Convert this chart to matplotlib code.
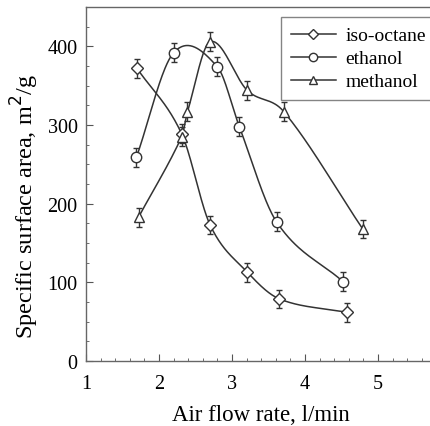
import numpy as np
import matplotlib
matplotlib.use("Agg")
import matplotlib.pyplot as plt
from matplotlib.ticker import MultipleLocator

# data
octane_x = [1.70, 2.31, 2.70, 3.21, 3.65, 4.57]
octane_y = [372, 289, 173, 113, 79, 62]
ethanol_x = [1.69, 2.20, 2.80, 3.10, 3.61, 4.52]
ethanol_y = [259, 392, 374, 298, 177, 101]
methanol_x = [1.72, 2.31, 2.39, 2.70, 3.21, 3.71, 4.79]
methanol_y = [183, 285, 317, 406, 344, 317, 168]
err = 12


def smooth(x, y, n=40):
    """Catmull-Rom style Hermite curve through the points (for the drawn line only)."""
    x = np.asarray(x, float)
    y = np.asarray(y, float)
    m = np.empty_like(y)
    m[1:-1] = (y[2:] - y[:-2]) / (x[2:] - x[:-2])
    m[0] = (y[1] - y[0]) / (x[1] - x[0])
    m[-1] = (y[-1] - y[-2]) / (x[-1] - x[-2])
    xs_all, ys_all = [], []
    for i in range(len(x) - 1):
        h = x[i + 1] - x[i]
        t = np.linspace(0, 1, n)
        h00 = 2 * t**3 - 3 * t**2 + 1
        h10 = t**3 - 2 * t**2 + t
        h01 = -2 * t**3 + 3 * t**2
        h11 = t**3 - t**2
        xs_all.append(x[i] + t * h)
        ys_all.append(h00 * y[i] + h10 * h * m[i] + h01 * y[i + 1] + h11 * h * m[i + 1])
    return np.concatenate(xs_all), np.concatenate(ys_all)


plt.rcParams["font.family"] = ["Liberation Serif", "DejaVu Serif"]

fig = plt.figure(figsize=(4.30, 4.27), dpi=100)
ax = fig.add_axes([0.2, 0.152, 0.815, 0.829])

line_col = "#333333"
series = [
    (octane_x, octane_y, "D", 6.5, "iso-octane"),
    (ethanol_x, ethanol_y, "o", 7.5, "ethanol"),
    (methanol_x, methanol_y, "^", 7.5, "methanol"),
]

for xs, ys, mk, ms, lab in series:
    sx, sy = smooth(xs, ys)
    ax.plot(sx, sy, color=line_col, lw=1.1, zorder=2)
    ax.errorbar(xs, ys, yerr=err, fmt="none", ecolor=line_col, elinewidth=1.0,
                capsize=2.5, capthick=1.0, zorder=3)
    ax.plot(xs, ys, linestyle="none", marker=mk, ms=ms, mfc="white",
            mec=line_col, mew=1.0, zorder=4)
    # legend proxy with a smaller marker
    ax.plot([], [], color=line_col, lw=1.1, marker=mk, ms=ms - 1.5, mfc="white",
            mec=line_col, mew=1.0, label=lab)

ax.set_xlim(1, 5.8)
ax.set_ylim(0, 450)
ax.set_xticks([1, 2, 3, 4, 5])
ax.xaxis.set_minor_locator(MultipleLocator(0.2))
ax.yaxis.set_major_locator(MultipleLocator(100))
ax.yaxis.set_minor_locator(MultipleLocator(25))
ax.tick_params(which="both", direction="in", top=False, right=False,
               labelsize=14.5, color="#555555")
ax.tick_params(axis="x", which="major", length=5, pad=9)
ax.tick_params(axis="y", which="major", length=5, pad=6)
ax.tick_params(which="minor", length=2.5)
for s in ax.spines.values():
    s.set_color("#666666")
    s.set_linewidth(1.0)

ax.set_xlabel("Air flow rate, l/min", fontsize=16.5, labelpad=8)
ax.set_ylabel("Specific surface area, m$^2$/g", fontsize=17.5)
ax.yaxis.set_label_coords(-0.128, 0.44)

leg = ax.legend(loc="upper left", bbox_to_anchor=(0.557, 0.972), fontsize=14,
                frameon=True, fancybox=False, handlelength=2.3,
                handletextpad=0.5, borderpad=0.5, labelspacing=0.28,
                borderaxespad=0)
leg.get_frame().set_edgecolor("#666666")
leg.get_frame().set_linewidth(1.0)

fig.savefig("out.png", dpi=100)
